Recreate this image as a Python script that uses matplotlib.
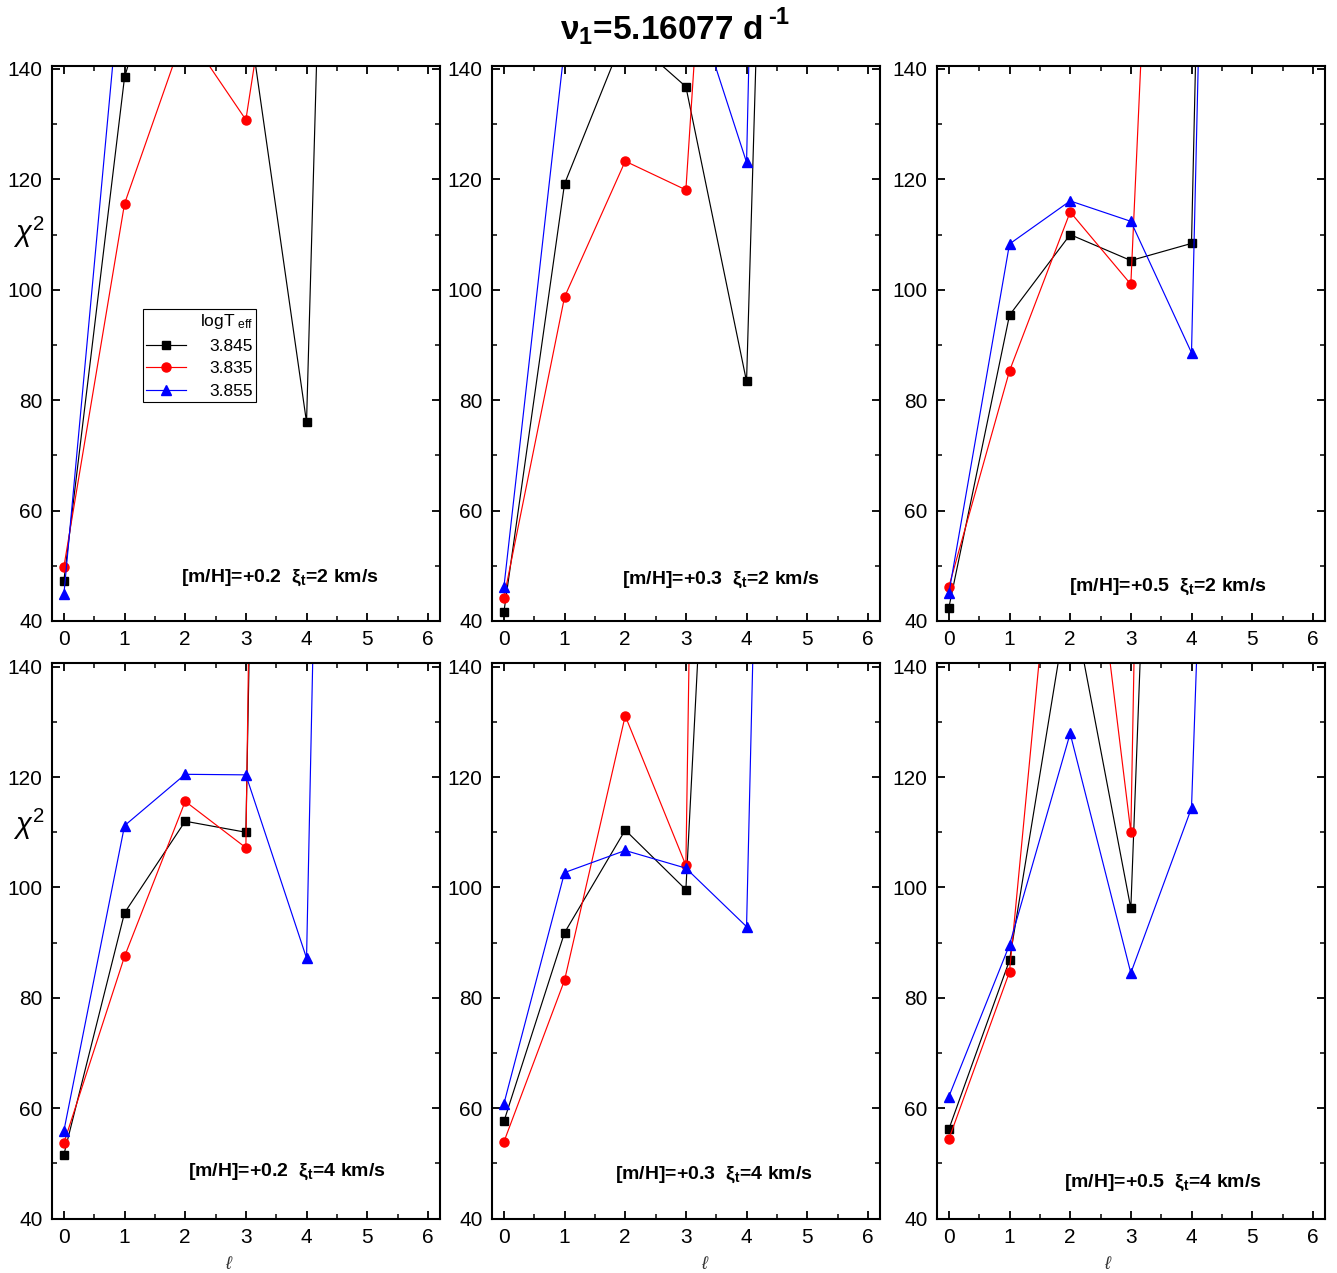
import matplotlib
matplotlib.use("Agg")
import matplotlib.pyplot as plt
from matplotlib.ticker import MultipleLocator

plt.rcParams['font.family'] = ['Liberation Sans', 'DejaVu Sans']
plt.rcParams['mathtext.fontset'] = 'custom'
plt.rcParams['mathtext.rm'] = 'Liberation Sans'
plt.rcParams['mathtext.it'] = 'Liberation Sans:italic'
plt.rcParams['mathtext.bf'] = 'Liberation Sans:bold'

# ---------------- data ----------------
ell = [0, 1, 2, 3, 4, 5]
temps = ['3.845', '3.835', '3.855']

# panel labels
metallicity = ['+0.2', '+0.3', '+0.5', '+0.2', '+0.3', '+0.5']
microturb = ['2', '2', '2', '4', '4', '4']

# chi^2 values per panel (series: logTeff 3.845, 3.835, 3.855)
p1_3845 = [47.3, 138.5, 175.0, 153.0, 76.0, 470.0]
p1_3835 = [49.8, 115.6, 147.0, 130.8, 202.0]
p1_3855 = [44.8, 164.0, 200.0, 190.0, 180.0]

p2_3845 = [41.6, 119.2, 146.5, 136.8, 83.4, 460.0]
p2_3835 = [44.2, 98.7, 123.3, 118.1, 287.0]
p2_3855 = [46.1, 144.0, 170.0, 157.0, 123.1, 600.0]

p3_3845 = [42.4, 95.4, 110.0, 105.3, 108.4, 600.0]
p3_3835 = [46.2, 85.3, 114.1, 101.0, 345.0]
p3_3855 = [45.0, 108.3, 116.1, 112.4, 88.6, 560.0]

p4_3845 = [51.6, 95.4, 112.0, 110.0, 700.0]
p4_3835 = [53.7, 87.5, 115.6, 107.2, 900.0]
p4_3855 = [55.9, 111.2, 120.5, 120.4, 87.2, 615.0]

p5_3845 = [57.6, 91.8, 110.4, 99.6, 313.0]
p5_3835 = [53.9, 83.2, 131.1, 104.0, 824.0]
p5_3855 = [60.8, 102.7, 106.7, 103.5, 92.9, 563.0]

p6_3845 = [56.2, 86.8, 154.0, 96.2, 388.0]
p6_3835 = [54.4, 84.7, 200.0, 110.0, 700.0]
p6_3855 = [62.1, 89.6, 127.9, 84.5, 114.4, 434.0]

panels = [
    (p1_3845, p1_3835, p1_3855),
    (p2_3845, p2_3835, p2_3855),
    (p3_3845, p3_3835, p3_3855),
    (p4_3845, p4_3835, p4_3855),
    (p5_3845, p5_3835, p5_3855),
    (p6_3845, p6_3835, p6_3855),
]

# ---------------- style ----------------
colors = ['#000000', '#ff0000', '#0000ff']
markers = ['s', 'o', '^']
msizes = [5.5, 6.5, 6.8]

fig = plt.figure(figsize=(13.37, 12.73), dpi=100)

lefts = [0.0387, 0.3678, 0.7006]
width = 0.2904
bottoms = [0.5122, 0.0427]
height = 0.4362

# annotation positions (axes fraction)
ann_pos = [(0.588, 0.077), (0.591, 0.074), (0.595, 0.062),
           (0.606, 0.084), (0.573, 0.079), (0.582, 0.064)]
ell_xpos = [0.454, 0.548, 0.44]

axes = []
for i, series in enumerate(panels):
    r, c = divmod(i, 3)
    ax = fig.add_axes([lefts[c], bottoms[r], width, height])
    axes.append(ax)
    lines = []
    for k, ys in enumerate(series):
        ln, = ax.plot(ell[:len(ys)], ys, color=colors[k], lw=0.85,
                      marker=markers[k], ms=msizes[k], mfc=colors[k],
                      mec=colors[k], label=temps[k])
        lines.append(ln)
    ax.set_xlim(-0.2, 6.2)
    ax.set_ylim(40, 140.6)
    ax.xaxis.set_major_locator(MultipleLocator(1))
    ax.xaxis.set_minor_locator(MultipleLocator(0.5))
    ax.yaxis.set_major_locator(MultipleLocator(20))
    ax.yaxis.set_minor_locator(MultipleLocator(10))
    ax.tick_params(which='both', direction='in', top=True, right=True,
                   labelsize=15)
    ax.tick_params(which='major', length=6, width=1.3, pad=6.5)
    ax.tick_params(which='minor', length=3.5, width=1.1)
    for s in ax.spines.values():
        s.set_linewidth(1.5)
    ax.set_yticks([40, 60, 80, 100, 120, 140])
    ax.text(ann_pos[i][0], ann_pos[i][1],
            '[m/H]=' + metallicity[i] + r'  $\mathbf{\xi_t}$=' + microturb[i] + ' km/s',
            transform=ax.transAxes, ha='center', va='center',
            fontsize=14, fontweight='bold')
    if c == 0:
        ax.text(-0.058, 0.70 if r == 0 else 0.71, r'$\chi^{2}$',
                transform=ax.transAxes, ha='center', va='center', fontsize=21)
    if r == 1:
        ax.text(ell_xpos[c], -0.082, '\u2113', transform=ax.transAxes,
                ha='center', va='center', fontsize=13, style='italic',
                color='#333333')
    if i == 0:
        leg = ax.legend(handles=lines, loc='upper left',
                        bbox_to_anchor=(0.235, 0.562),
                        title=r'logT$_{\ \mathrm{eff}}$',
                        fontsize=12.5, title_fontsize=12.5, frameon=True,
                        fancybox=False, framealpha=1, edgecolor='black',
                        borderpad=0.2, borderaxespad=0, handlelength=2.3,
                        handletextpad=1.3, labelspacing=0.42,
                        alignment='right')
        leg.get_frame().set_linewidth(0.8)

main_title = fig.text(560 / 1337, 0.976, r'$\mathbf{\nu_1}$=5.16077 d',
                      ha='left', va='center', fontsize=24, fontweight='bold')
fig.canvas.draw()
bb = main_title.get_window_extent()
fig.text((bb.x1 + 6) / 1337, 1 - 17 / 1273, '-1', ha='left', va='center',
         fontsize=17, fontweight='bold')

fig.savefig('out.png', dpi=100)
